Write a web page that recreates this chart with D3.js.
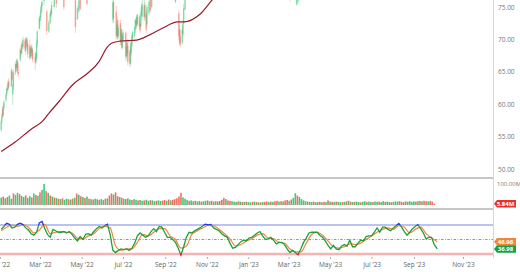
<!DOCTYPE html>
<html lang="en">
<head>
<meta charset="UTF-8" />
<title>Price, volume and RSI</title>
<script src="https://d3js.org/d3.v7.min.js"></script>
<style>
  body { margin: 0; background: #fff; }
  svg { display: block; font-family: "Open Sans", sans-serif; }
</style>
</head>
<body>
<svg id="chart" width="520" height="272"></svg>
<script>
// ---- values ----
// daily candles that show inside the crop: [date, open, high, low, close]
const candles = [
  ["2022-01-03",56.0,57.6,55.7,57.3],["2022-01-04",57.3,58.6,57.0,58.3],["2022-01-05",59.2,59.6,57.9,58.2],
  ["2022-01-06",58.3,60.0,58.0,59.6],["2022-01-07",59.4,60.6,59.1,60.4],["2022-01-10",60.6,61.7,60.3,61.5],
  ["2022-01-11",61.5,62.6,61.2,62.4],["2022-01-12",62.4,63.0,61.7,62.2],["2022-01-13",62.3,63.7,62.0,63.4],
  ["2022-01-14",63.5,64.0,62.4,62.6],["2022-01-18",62.8,65.6,62.6,65.2],["2022-01-19",65.0,65.4,63.4,63.8],
  ["2022-01-20",61.5,63.3,59.9,62.9],["2022-01-21",62.8,65.3,62.2,64.9],["2022-01-24",64.9,66.5,64.5,66.2],
  ["2022-01-25",66.2,66.8,65.2,65.6],["2022-01-26",65.6,67.1,65.0,66.8],["2022-01-27",66.6,66.9,64.8,65.1],
  ["2022-01-28",65.0,66.4,64.2,64.6],["2022-01-31",66.8,68.7,66.5,68.4],["2022-02-01",68.3,69.0,67.3,67.8],
  ["2022-02-02",67.9,69.6,67.6,69.2],["2022-02-03",69.2,69.8,68.5,69.0],["2022-02-04",68.8,70.4,68.4,70.0],
  ["2022-02-07",69.8,70.2,68.1,68.6],["2022-02-08",68.2,70.3,67.6,69.8],["2022-02-09",69.6,70.4,68.9,70.1],
  ["2022-02-10",70.0,70.3,68.4,68.8],["2022-02-11",69.3,69.6,67.1,67.8],["2022-02-14",69.0,70.0,66.8,67.2],
  ["2022-02-15",67.3,69.0,67.0,68.7],["2022-02-16",68.6,69.2,67.4,67.9],["2022-02-17",67.5,69.2,67.1,68.8],
  ["2022-02-18",68.4,68.6,66.5,66.9],["2022-02-22",67.3,67.9,65.3,66.4],["2022-02-23",66.5,68.2,66.2,67.9],
  ["2022-02-24",67.2,70.0,66.9,69.5],["2022-02-25",69.4,71.5,68.8,71.2],["2022-02-28",71.6,73.5,71.5,73.2],
  ["2022-03-01",72.9,74.0,72.0,73.6],["2022-03-02",73.5,75.0,72.9,74.6],["2022-03-03",74.6,75.8,74.0,75.3],
  ["2022-03-04",75.2,76.6,74.1,75.8],["2022-03-07",75.9,77.0,75.3,76.5],["2022-03-11",74.3,74.6,70.7,71.3],
  ["2022-03-14",71.2,73.0,71.0,72.6],["2022-03-16",72.6,74.2,72.4,73.9],["2022-03-17",73.6,74.8,73.4,74.4],
  ["2022-03-18",74.0,75.9,73.8,75.3],["2022-03-22",75.0,77.0,74.9,76.4],["2022-03-25",76.5,77.0,74.9,75.5],
  ["2022-04-05",76.5,77.0,74.5,75.0],["2022-04-22",76.0,77.0,71.0,71.9],["2022-04-25",73.1,75.2,73.0,74.8],
  ["2022-04-27",74.3,76.5,74.1,76.0],["2022-04-29",76.3,77.0,74.5,74.7],["2022-05-09",76.5,77.0,75.3,75.5],
  ["2022-06-16",73.0,76.5,72.5,75.7],["2022-06-17",75.8,76.5,72.6,73.3],["2022-06-21",74.2,75.2,70.0,70.5],
  ["2022-06-22",70.6,72.8,70.2,72.3],["2022-06-23",73.0,73.5,69.9,70.3],["2022-06-24",70.5,72.2,70.1,71.8],
  ["2022-06-27",72.5,73.0,69.1,69.5],["2022-06-28",69.6,72.2,69.1,71.6],["2022-06-29",71.2,71.5,68.4,68.7],
  ["2022-06-30",68.9,71.0,68.6,70.6],["2022-07-01",69.9,71.6,69.8,71.0],["2022-07-05",71.0,71.3,66.6,67.3],
  ["2022-07-06",67.4,69.5,67.0,69.0],["2022-07-07",69.5,70.0,67.4,67.8],["2022-07-08",69.0,69.5,66.0,66.5],
  ["2022-07-11",68.2,68.5,65.7,66.2],["2022-07-12",66.3,69.4,66.0,69.0],["2022-07-13",68.0,70.0,67.5,69.6],
  ["2022-07-14",69.0,70.9,68.9,70.6],["2022-07-15",70.2,71.4,69.8,71.1],["2022-07-18",70.5,72.0,70.2,71.8],
  ["2022-07-19",71.6,73.2,71.0,73.0],["2022-07-20",73.0,73.4,71.8,72.2],["2022-07-21",72.0,73.8,71.6,73.5],
  ["2022-07-22",72.4,74.0,72.2,73.8],["2022-07-25",73.5,73.8,71.5,72.0],["2022-07-26",72.4,72.8,71.0,71.4],
  ["2022-07-27",72.0,74.3,71.9,74.0],["2022-07-28",74.0,75.4,73.5,75.0],["2022-07-29",73.5,76.5,73.0,75.5],
  ["2022-08-01",73.5,76.3,73.0,75.3],["2022-08-02",75.3,75.8,72.8,73.4],["2022-08-04",74.0,74.5,71.0,71.5],
  ["2022-08-05",72.3,75.5,72.0,75.0],["2022-08-08",74.0,76.5,73.7,75.8],["2022-08-10",76.2,77.0,74.2,74.5],
  ["2022-08-12",75.0,77.0,74.8,76.3],["2022-09-16",76.4,77.0,75.6,75.8],["2022-09-21",74.0,74.5,69.9,70.5],
  ["2022-09-22",71.5,72.2,69.1,69.5],["2022-09-23",70.5,71.5,68.8,69.2],["2022-09-26",69.5,72.2,69.2,71.5],
  ["2022-09-27",70.8,73.0,70.5,72.5],["2022-09-28",72.5,75.5,72.3,74.8],["2022-09-30",74.6,77.0,74.5,76.3],
  ["2023-03-03",76.8,77.5,75.9,76.2],["2023-03-13",75.4,77.5,75.2,77.0],["2023-03-15",75.8,78.0,75.5,77.2]
];
// long moving average, read as points along the curve
const maPoints = [
  ["2022-01-03",52.7],["2022-01-24",54.2],["2022-02-18",56.3],["2022-03-04",57.3],["2022-03-14",58.6],
  ["2022-03-28",60.3],["2022-04-18",63.0],["2022-05-09",64.7],["2022-05-27",66.6],["2022-06-07",68.7],
  ["2022-06-14",69.4],["2022-06-27",69.75],["2022-07-21",69.9],["2022-08-09",70.7],["2022-08-29",71.8],
  ["2022-09-19",72.7],["2022-09-29",72.7],["2022-10-21",73.8],["2022-11-09",76.1],["2022-11-28",78.2]
];
// volume in millions, one reading every 3 days; negative = down day
const volStart = "2022-01-03", volStepDays = 3;
const volume = [
  35,-40,32,-38,45,30,-55,48,58,-52, 44,38,-46,34,42,-36,55,-48,44,-60,
  72,100,-66,58,-45,40,-36,34,-30,28, -32,25,30,-27,26,-30,35,-55,48,-42,
  38,-34,40,-30,28,-26,30,27,-25,28, 24,-30,32,-45,-55,50,-60,-42,38,-35,
  30,-28,32,26,-24,28,25,-22,24,20, -22,25,20,-23,22,18,-20,22,19,-21,
  -24,20,-26,22,-25,-28,-32,-40,-58,36, 30,24,-20,22,18,-20,17,19,-16,18,
  20,-22,18,-20,16,-18,17,-19,-25,-34, 28,-22,-20,18,16,15,-17,16,-14,15,
  -16,14,12,-15,16,-14,13,-12,14,-15, -17,14,-16,15,-18,-20,16,-18,17,-22,
  -24,20,-26,34,56,-45,38,28,22,18, -16,15,14,-16,13,-14,15,-13,-15,14,
  -22,16,-15,14,-16,15,13,-14,15,-17, 20,-16,14,-15,16,14,-13,15,18,-14,
  16,15,-14,17,15,-16,14,18,-15,16, 14,-13,15,17,16,-18,-15,14,-17,16,
  18,15,17,-16,18,-19,17,-20,-18,17, -19,-16,-5.84
];
// RSI, one reading every 4 days
const rsiStart = "2022-01-03", rsiStepDays = 4;
const rsi = [
  64,68,72.5,71,66,67,71,72.5,70.5,66, 63,58,56,60,73,75,65,57,53,64,
  62,60,60,61,59,61,57,52,48,54, 50,57,58,56,61,65,68,66,69,71,
  57,35,32,35,37,36,37,35,38,45, 55,59,56,53,55,61,65,61,68,67,
  60,53,53,50,46,38,28.5,40,53,60, 59,62,64,66,69,71,70,70.8,66,64,
  62,58,55,53,45,38,39,43,47,49, 48,52,53,56,59,61,55,50,51,53,
  49,44,46,46,43,37,32,35,32,29, 37,46,52,59,60,60,60,56,53,48,
  42,37,42,37,36,41,43,41,49,40, 40,45,49,48,54,55,55,60,66,60,
  67,67,64,62,66,69,72,67,61,56, 60,65,68,70.5,65,59,51,53,53,43,
  36.98
];
// RSI signal line, one reading every 8 days
const signalStart = "2022-01-03", signalStepDays = 8;
const rsiSignal = [
  62,67,70,68,70.5,67,59,63,71,58, 60,61,60,59,52,51,55,58,65,68,
  66,41,35,37,37,46,57,55,60,65, 65,55,50,38,41,57,62,66,69.5,69,
  64,58,51,41,43,48,51,56,58,52, 51,46,45,37,33,33,45,57,60,56,
  48,40,38,40,44,43,45,50,55,60, 64,66,64,69,67,59,64,67,58,52,
  46.96
];
const priceTicks = [50, 55, 60, 65, 70, 75];
const volumeTicks = [100];
const rsiLevels = [30, 50, 70];
const monthTicks = ["2022-01-01","2022-03-01","2022-05-01","2022-07-01","2022-09-01","2022-11-01",
  "2023-01-01","2023-03-01","2023-05-01","2023-07-01","2023-09-01","2023-11-01"];

// ---- layout ----
const axisX = 493;
const parse = d3.timeParse("%Y-%m-%d");
// history runs to early Oct '23; the empty future part of the axis is spaced a little wider
const x = d3.scaleTime()
  .domain([parse("2022-03-01"), parse("2023-10-04"), parse("2023-11-01")])
  .range([40, 436.3, 463]);
const yPrice = d3.scaleLinear().domain([50, 75]).range([169, 7]);
const yVol = d3.scaleLinear().domain([0, 100]).range([205, 184]);
const yRsi = d3.scaleLinear().domain([30, 70]).range([254, 225]);
const up = "#2fbf6c", down = "#ee604e";
const stepDate = (start, step) => (v, i) => x(d3.timeDay.offset(parse(start), i * step));

const svg = d3.select("#chart");
const defs = svg.append("defs");
function clip(id, y0, y1) {
  defs.append("clipPath").attr("id", id).append("rect")
    .attr("x", 0).attr("y", y0).attr("width", axisX).attr("height", y1 - y0);
}
clip("c-price", 0, 177);
clip("c-vol", 179, 208);
clip("c-rsi", 211, 258);
clip("c-ob", 211, yRsi(70));
clip("c-mid", yRsi(70), yRsi(30));
clip("c-os", yRsi(30), 258);

// price panel
const pg = svg.append("g").attr("clip-path", "url(#c-price)");
const isUp = d => d[4] >= d[1];
pg.selectAll("line.wick").data(candles).join("line")
  .attr("x1", d => x(parse(d[0]))).attr("x2", d => x(parse(d[0])))
  .attr("y1", d => yPrice(d[2])).attr("y2", d => yPrice(d[3]))
  .attr("stroke", d => isUp(d) ? up : down).attr("stroke-opacity", 0.4).attr("stroke-width", 0.8);
pg.selectAll("rect.body").data(candles).join("rect")
  .attr("x", d => x(parse(d[0])) - 0.7).attr("width", 1.4)
  .attr("y", d => yPrice(Math.max(d[1], d[4])))
  .attr("height", d => Math.max(0.6, Math.abs(yPrice(d[1]) - yPrice(d[4]))))
  .attr("fill", d => isUp(d) ? up : down).attr("fill-opacity", 0.45);
pg.append("path").datum(maPoints)
  .attr("fill", "none").attr("stroke", "#9a1b2c").attr("stroke-width", 1.2)
  .attr("d", d3.line().x(d => x(parse(d[0]))).y(d => yPrice(d[1])).curve(d3.curveMonotoneX));

// volume panel
const vx = stepDate(volStart, volStepDays);
svg.append("g").attr("clip-path", "url(#c-vol)")
  .selectAll("rect").data(volume).join("rect")
  .attr("x", (v, i) => vx(v, i) - 0.8).attr("width", 1.6)
  .attr("y", v => yVol(Math.abs(v))).attr("height", v => yVol(0) - yVol(Math.abs(v)))
  .attr("fill", v => v >= 0 ? up : down).attr("fill-opacity", 0.9);

// RSI panel
const rg = svg.append("g").attr("clip-path", "url(#c-rsi)");
rg.append("line").attr("x1", 0).attr("x2", axisX).attr("y1", yRsi(rsiLevels[0])).attr("y2", yRsi(rsiLevels[0]))
  .attr("stroke", "#f5b3b3").attr("stroke-width", 2.4);
rg.append("line").attr("x1", 0).attr("x2", axisX).attr("y1", yRsi(rsiLevels[1])).attr("y2", yRsi(rsiLevels[1]))
  .attr("stroke", "#777").attr("stroke-width", 0.8).attr("stroke-dasharray", "2.5,1.5,0.8,1.5");
rg.append("line").attr("x1", 0).attr("x2", axisX).attr("y1", yRsi(rsiLevels[2])).attr("y2", yRsi(rsiLevels[2]))
  .attr("stroke", "#7486e6").attr("stroke-width", 1);
rg.append("path").datum(rsiSignal).attr("fill", "none").attr("stroke", "#f0883c").attr("stroke-width", 1.2)
  .attr("d", d3.line().x(stepDate(signalStart, signalStepDays)).y(v => yRsi(v)).curve(d3.curveMonotoneX));
const rsiPath = d3.line().x(stepDate(rsiStart, rsiStepDays)).y(v => yRsi(v))(rsi);
[["c-mid", "#1f9e3e"], ["c-ob", "#2236e8"], ["c-os", "#d8141c"]].forEach(([id, c]) => {
  rg.append("path").attr("clip-path", `url(#${id})`).attr("d", rsiPath)
    .attr("fill", "none").attr("stroke", c).attr("stroke-width", 1.3);
});

// separators and right axis line
[178, 209].forEach(y => svg.append("line").attr("x1", 0).attr("x2", axisX).attr("y1", y).attr("y2", y)
  .attr("stroke", "#b4b4b4").attr("stroke-width", 1.5));
svg.append("line").attr("x1", axisX + 0.5).attr("x2", axisX + 0.5).attr("y1", 0).attr("y2", 258)
  .attr("stroke", "#d6d6d6");

// right axis labels
const rightAxis = svg.append("g").attr("transform", `translate(${axisX + 1},0)`)
  .call(d3.axisRight(yPrice).tickValues(priceTicks).tickFormat(d3.format(".2f")).tickSize(0).tickPadding(4));
const volAxis = svg.append("g").attr("transform", `translate(${axisX + 1},0)`)
  .call(d3.axisRight(yVol).tickValues(volumeTicks).tickFormat(v => d3.format(".2f")(v) + "M").tickSize(0).tickPadding(3));
[rightAxis, volAxis].forEach(g => {
  g.select(".domain").remove();
  g.selectAll("text").attr("fill", "#777").attr("font-size", 6.5).attr("font-family", "Open Sans, sans-serif");
});
volAxis.selectAll("text").attr("font-size", 6);

// bottom axis
const xAxis = svg.append("g").attr("transform", "translate(0,257)")
  .call(d3.axisBottom(x).tickValues(monthTicks.map(parse)).tickFormat(d3.timeFormat("%b '%y")).tickSize(2).tickPadding(3));
xAxis.select(".domain").remove();
xAxis.selectAll("line").attr("stroke", "#aaa");
xAxis.selectAll("text").attr("fill", "#666").attr("font-size", 6.5).attr("font-family", "Open Sans, sans-serif");

// last value badges
function badge(yc, label, color) {
  svg.append("path")
    .attr("d", `M${axisX + 1},${yc} L${axisX + 4},${yc - 3.8} L516,${yc - 3.8} L516,${yc + 3.8} L${axisX + 4},${yc + 3.8} Z`)
    .attr("fill", color);
  svg.append("text").attr("x", 505.5).attr("y", yc).attr("dy", "0.35em").attr("text-anchor", "middle")
    .attr("fill", "#fff").attr("font-size", 6).attr("font-weight", 700).text(label);
}
const lastVol = Math.abs(volume[volume.length - 1]);
badge(yVol(lastVol), d3.format(".2f")(lastVol) + "M", "#e5302b");
badge(yRsi(rsiSignal[rsiSignal.length - 1]), d3.format(".2f")(rsiSignal[rsiSignal.length - 1]), "#f0883c");
badge(yRsi(rsi[rsi.length - 1]), d3.format(".2f")(rsi[rsi.length - 1]), "#18a048");
</script>
</body>
</html>
